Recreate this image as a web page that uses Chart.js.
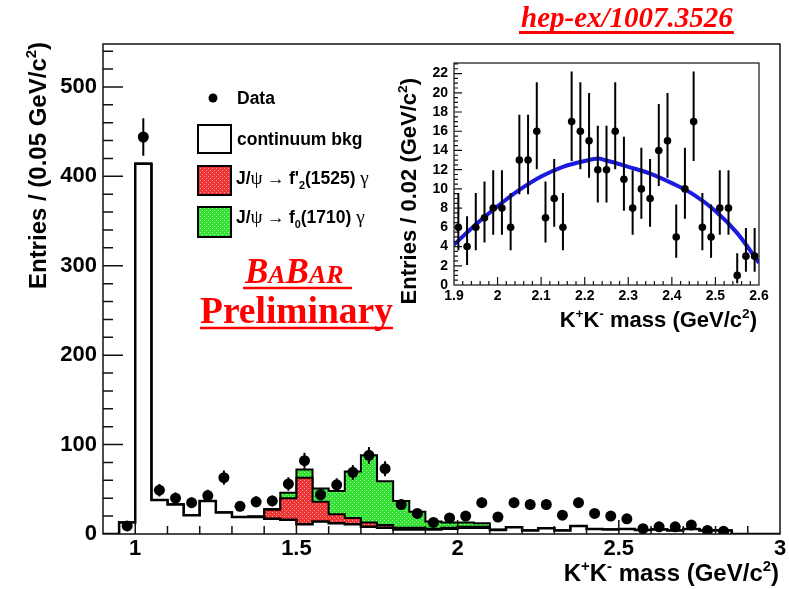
<!DOCTYPE html>
<html><head><meta charset="utf-8">
<script src="https://cdn.jsdelivr.net/npm/chart.js@4.4.0/dist/chart.umd.min.js"></script>
<style>
html,body{margin:0;padding:0;background:#fff;}
#wrap{position:relative;width:789px;height:589px;overflow:hidden;}
#main{position:absolute;left:0;top:0;}
#inset{position:absolute;left:380px;top:40px;}
</style></head><body>
<div id="wrap"><canvas id="main" width="789" height="589"></canvas><canvas id="inset" width="400" height="305"></canvas></div>
<script>
// ---------------- main histogram data (bins of 0.05 GeV/c^2) ----------------
const BIN_WIDTH = 0.05;
const massCenters = [0.925,0.975,1.025,1.075,1.125,1.175,1.225,1.275,1.325,1.375,1.425,1.475,1.525,1.575,1.625,1.675,1.725,1.775,1.825,1.875,1.925,1.975,2.025,2.075,2.125,2.175,2.225,2.275,2.325,2.375,2.425,2.475,2.525,2.575,2.625,2.675,2.725,2.775,2.825,2.875,2.925,2.975];
const dataCounts = [null,9,444,49,40,35,43,63,31,36,37,56,82,44,55,69,88,73,33,23,13,18,20,35,19,35,33,33,21,35,23,20,17,6,8,8,10,4,3,null,null,null];
const dataErrors = [null,3,21,7,6.3,5.9,6.6,7.9,5.6,6,6.1,7.5,9,6.6,7.4,8.3,9.4,8.5,5.7,4.8,3.6,4.2,4.5,5.9,4.4,5.9,5.7,5.7,4.6,5.9,4.8,4.5,4.1,2.4,2.8,2.8,3.2,2,1.7,null,null,null];
const bkgCounts = [0,13,414,38,33,21,37,24,19,19,17,16,11,14,12,11,8,7,5,5,5,6,7,7,4.5,7.5,4,6.5,4,9,5.5,5,5.5,4.5,5,4,5.5,4,4,0,0,0];
const f2Counts  = [0,0,0,0,0,0,0,0,0,0.5,10,24,52,22,10,7,5,3,2,2,1,1,1,1,0,0,0,0,0,0,0,0,0,0,0,0,0,0,0,0,0,0];
const f0Counts  = [0,0,0,0,0,0,0,0,0,0,1,6,9,15,26,52,75,49,30,18,8,6,5,4,0.5,0,0,0,0,0,0,0,0,0,0,0,0,0,0,0,0,0];
const mainXTicks = [1,1.5,2,2.5,3];
const mainYTicks = [0,100,200,300,400,500];

// ---------------- inset data (bins of 0.02 GeV/c^2) ----------------
const insetMass = [1.91,1.93,1.95,1.97,1.99,2.01,2.03,2.05,2.07,2.09,2.11,2.13,2.15,2.17,2.19,2.21,2.23,2.25,2.27,2.29,2.31,2.33,2.35,2.37,2.39,2.41,2.43,2.45,2.47,2.49,2.51,2.53,2.55,2.57,2.59];
const insetCounts = [6,4,6,7,8,8,6,13,13,16,7,9,6,17,16,15,12,12,16,11,8,10,9,14,15,5,10,17,6,5,8,8,1,3,3];
const insetErrLo = [2.38,1.91,2.38,2.58,2.77,2.77,2.38,3.56,3.56,3.96,2.58,2.94,2.38,4.09,3.96,3.83,3.42,3.42,3.96,3.27,2.77,3.11,2.94,3.70,3.83,2.16,3.11,4.09,2.38,2.16,2.77,2.77,0.83,1.63,1.63];
const insetErrHi = [3.58,3.16,3.58,3.77,3.95,3.95,3.58,4.71,4.71,5.10,3.77,4.11,3.58,5.22,5.10,4.97,4.57,4.57,5.10,4.42,3.95,4.27,4.11,4.84,4.97,3.38,4.27,5.22,3.58,3.38,3.95,3.95,2.30,2.92,2.92];
const fitMass   = [1.90,1.95,2.00,2.05,2.10,2.15,2.20,2.23,2.25,2.30,2.35,2.40,2.45,2.50,2.55,2.60];
const fitValues = [4.2,6.3,8.2,9.9,11.3,12.3,12.9,13.15,12.95,12.3,11.6,10.6,9.4,7.7,5.4,2.3];
const insetXTicks = [1.9,2.0,2.1,2.2,2.3,2.4,2.5,2.6];
const insetYTicks = [0,2,4,6,8,10,12,14,16,18,20,22];

const SANS = 'Liberation Sans';
const SERIF = 'Liberation Serif';

// ---------------- helpers ----------------
function histPoints(vals) {
  const pts = [{x: massCenters[0] - BIN_WIDTH/2, y: 0}];
  vals.forEach((v, i) => pts.push({x: massCenters[i] - BIN_WIDTH/2, y: v}));
  const last = massCenters[massCenters.length-1] + BIN_WIDTH/2;
  pts.push({x: last, y: vals[vals.length-1]});
  pts.push({x: last, y: 0});
  return pts;
}
function makePattern(ctx, rgb, dot) {
  const c = document.createElement('canvas'); c.width = 4; c.height = 4;
  const g = c.getContext('2d');
  g.fillStyle = 'rgb(' + rgb.join(',') + ')'; g.fillRect(0,0,4,4);
  g.fillStyle = 'rgb(' + dot.join(',') + ')';
  g.fillRect(0,0,1,1); g.fillRect(2,2,1,1);
  return ctx.createPattern(c, 'repeat');
}
function drawRich(ctx, x, y, parts, opt) {
  const base = opt.size;
  const fontOf = p => {
    let s = p.m ? base*0.62 : base;
    if (p.s) s = base * p.s;
    const fam = p.f || opt.family;
    const w = p.w !== undefined ? p.w : opt.weight;
    return ((p.i || opt.italic) ? 'italic ' : '') + w + ' ' + s + 'px "' + fam + '"';
  };
  let total = 0;
  parts.forEach(p => { ctx.font = fontOf(p); total += ctx.measureText(p.t).width; });
  let cx = opt.align === 'right' ? x - total : (opt.align === 'center' ? x - total/2 : x);
  ctx.textAlign = 'left'; ctx.textBaseline = 'alphabetic'; ctx.fillStyle = opt.color || '#000';
  parts.forEach(p => {
    ctx.font = fontOf(p);
    const dy = p.m === 1 ? -base*0.42 : (p.m === -1 ? base*0.3 : 0);
    ctx.fillText(p.t, cx, y + dy);
    cx += ctx.measureText(p.t).width;
  });
  return total;
}
// frame + inward ticks plugin
const framePlugin = {
  id: 'frame',
  afterDatasetsDraw(chart, args, o) {
    const {ctx, chartArea: a, scales: {x, y}} = chart;
    ctx.save();
    ctx.strokeStyle = '#111'; ctx.lineWidth = o.lw;
    ctx.beginPath();
    const nx = Math.round((x.max - x.min) / o.xMinor);
    for (let i = 0; i <= nx; i++) {
      const v = x.min + i * o.xMinor;
      const isMaj = o.xMajor.some(m => Math.abs(m - v) < 1e-6);
      const px = x.getPixelForValue(v);
      if (px < a.left + 0.5 || px > a.right - 0.5) continue;
      ctx.moveTo(px, a.bottom); ctx.lineTo(px, a.bottom - (isMaj ? o.xMajLen : o.xMinLen));
    }
    const ny = Math.floor((y.max - y.min) / o.yMinor + 1e-6);
    for (let i = 0; i <= ny; i++) {
      const v = y.min + i * o.yMinor;
      const isMaj = o.yMajor.some(m => Math.abs(m - v) < 1e-6);
      const py = y.getPixelForValue(v);
      if (py > a.bottom - 0.5 || py < a.top + 0.5) continue;
      ctx.moveTo(a.left, py); ctx.lineTo(a.left + (isMaj ? o.yMajLen : o.yMinLen), py);
    }
    ctx.stroke();
    ctx.strokeRect(a.left, a.top, a.right - a.left, a.bottom - a.top);
    ctx.restore();
  }
};
// error bars plugin
const errorBarPlugin = {
  id: 'errbars',
  afterDatasetsDraw(chart, args, o) {
    const {ctx, scales: {x, y}} = chart;
    ctx.save(); ctx.strokeStyle = '#000'; ctx.lineWidth = o.lw;
    ctx.beginPath();
    o.xs.forEach((xv, i) => {
      const v = o.vals[i];
      if (v === null || v === undefined) return;
      const px = x.getPixelForValue(xv);
      ctx.moveTo(px, y.getPixelForValue(v - o.lo[i]));
      ctx.lineTo(px, y.getPixelForValue(v + o.hi[i]));
    });
    ctx.stroke(); ctx.restore();
  }
};

// ---------------- main chart ----------------
const mainCanvas = document.getElementById('main');
const mctx = mainCanvas.getContext('2d');
const redPat = makePattern(mctx, [236,52,52], [255,160,160]);
const greenPat = makePattern(mctx, [52,224,52], [160,255,160]);
const redTop = bkgCounts.map((b, i) => b + f2Counts[i]);
const totalTop = redTop.map((r, i) => r + f0Counts[i]);
const dataPts = [];
massCenters.forEach((m, i) => { if (dataCounts[i] !== null) dataPts.push({x: m, y: dataCounts[i]}); });

const annotations = {
  id: 'annot',
  afterDraw(chart) {
    const ctx = chart.ctx;
    ctx.save();
    // axis titles
    drawRich(ctx, 779, 581, [{t:'K'},{t:'+',m:1},{t:'K'},{t:'-',m:1},{t:' mass (GeV/c'},{t:'2',m:1},{t:')'}],
      {size:24, weight:'bold', family:SANS, align:'right'});
    ctx.save(); ctx.translate(46, 42); ctx.rotate(-Math.PI/2);
    drawRich(ctx, 0, 0, [{t:'Entries / (0.05 GeV/c'},{t:'2',m:1},{t:')'}], {size:24, weight:'bold', family:SANS, align:'right'});
    ctx.restore();
    // legend
    ctx.fillStyle = '#000';
    ctx.beginPath(); ctx.arc(213, 98, 4.5, 0, Math.PI*2); ctx.fill();
    drawRich(ctx, 237, 104, [{t:'Data'}], {size:17.5, weight:'bold', family:SANS});
    ctx.lineWidth = 2; ctx.strokeStyle = '#000';
    ctx.fillStyle = '#fff'; ctx.fillRect(198,125,33,28); ctx.strokeRect(198,125,33,28);
    drawRich(ctx, 237, 145, [{t:'continuum bkg'}], {size:17.5, weight:'bold', family:SANS});
    ctx.fillStyle = redPat; ctx.fillRect(198,166,33,29); ctx.strokeRect(198,166,33,29);
    drawRich(ctx, 236, 184, [{t:'J/'},{t:'\u03C8',f:SERIF,w:'normal',s:1.1},{t:' \u2192 ',f:SERIF,w:'normal'},{t:"f'"},{t:'2',m:-1},{t:'(1525) '},{t:'\u03B3',f:SERIF,w:'normal',s:1.1}], {size:17.5, weight:'bold', family:SANS});
    ctx.fillStyle = greenPat; ctx.fillRect(198,207,33,30); ctx.strokeRect(198,207,33,30);
    drawRich(ctx, 236, 223, [{t:'J/'},{t:'\u03C8',f:SERIF,w:'normal',s:1.1},{t:' \u2192 ',f:SERIF,w:'normal'},{t:'f'},{t:'0',m:-1},{t:'(1710) '},{t:'\u03B3',f:SERIF,w:'normal',s:1.1}], {size:17.5, weight:'bold', family:SANS});
    // BABAR Preliminary
    const red = '#ff0000';
    drawRich(ctx, 245, 283, [{t:'B'},{t:'A',s:0.74},{t:'B'},{t:'AR',s:0.74}], {size:35, weight:'bold', family:SERIF, color:red, italic:true});
    ctx.strokeStyle = red; ctx.lineWidth = 2.5;
    ctx.beginPath(); ctx.moveTo(243, 288); ctx.lineTo(352, 288); ctx.stroke();
    const pw = drawRich(ctx, 200, 323, [{t:'Preliminary'}], {size:37.5, weight:'bold', family:SERIF, color:red});
    ctx.beginPath(); ctx.moveTo(200, 328); ctx.lineTo(200 + pw, 328); ctx.stroke();
    // reference tag
    const hw = drawRich(ctx, 521, 27, [{t:'hep-ex/1007.3526'}], {size:29, weight:'bold', family:SERIF, color:red, italic:true});
    ctx.lineWidth = 3;
    ctx.beginPath(); ctx.moveTo(519, 32.5); ctx.lineTo(521 + hw + 1, 32.5); ctx.stroke();
    ctx.restore();
  }
};

new Chart(mctx, {
  type: 'line',
  data: {
    datasets: [
      {label:'Data', data: dataPts, showLine:false, pointRadius:5.5, pointHoverRadius:5.5, pointBackgroundColor:'#000', pointBorderColor:'#000', pointBorderWidth:0, order:0},
      {label:'continuum bkg', data: histPoints(bkgCounts), stepped:true, fill:'origin', backgroundColor:'#ffffff', borderColor:'#000', borderWidth:2.5, pointRadius:0, order:1},
      {label:'f2(1525)', data: histPoints(redTop), stepped:true, fill:'origin', backgroundColor:redPat, borderColor:'#000', borderWidth:2, pointRadius:0, order:2},
      {label:'f0(1710)', data: histPoints(totalTop), stepped:true, fill:'origin', backgroundColor:greenPat, borderColor:'#000', borderWidth:2, pointRadius:0, order:3}
    ]
  },
  options: {
    responsive:false, animation:false, devicePixelRatio:1,
    layout:{padding:{top:44, right:9, left:0, bottom:0}},
    plugins:{
      legend:{display:false}, tooltip:{enabled:false},
      frame:{lw:1.5, xMajor:mainXTicks, xMinor:0.1, xMajLen:14, xMinLen:8, yMajor:mainYTicks, yMinor:20, yMajLen:20, yMinLen:10},
      errbars:{xs:massCenters, vals:dataCounts, lo:dataErrors, hi:dataErrors, lw:2}
    },
    scales:{
      x:{type:'linear', min:0.9, max:3.0,
         grid:{display:false, drawTicks:false}, border:{display:false},
         afterBuildTicks: s => { s.ticks = mainXTicks.map(v => ({value:v})); },
         afterFit: s => { s.height = 55; },
         ticks:{font:{family:SANS, weight:'bold', size:22}, color:'#000', padding:2, maxRotation:0, autoSkip:false, callback: v => String(v)}},
      y:{type:'linear', min:0, max:548,
         grid:{display:false, drawTicks:false}, border:{display:false},
         afterBuildTicks: s => { s.ticks = mainYTicks.map(v => ({value:v})); },
         afterFit: s => { s.width = 103; },
         ticks:{font:{family:SANS, weight:'bold', size:22}, color:'#000', padding:6, autoSkip:false, callback: v => String(v)}}
    }
  },
  plugins:[framePlugin, errorBarPlugin, annotations]
});

// ---------------- inset chart ----------------
const ictx = document.getElementById('inset').getContext('2d');
const insetPts = insetMass.map((m, i) => ({x: m, y: insetCounts[i]}));
const fitPts = fitMass.map((m, i) => ({x: m, y: fitValues[i]}));
const insetTitles = {
  id: 'insetTitles',
  afterDraw(chart) {
    const ctx = chart.ctx;
    ctx.save();
    drawRich(ctx, 377, 287, [{t:'K'},{t:'+',m:1},{t:'K'},{t:'-',m:1},{t:' mass (GeV/c'},{t:'2',m:1},{t:')'}],
      {size:22, weight:'bold', family:SANS, align:'right'});
    ctx.translate(36, 38); ctx.rotate(-Math.PI/2);
    drawRich(ctx, 0, 0, [{t:'Entries / 0.02 (GeV/c'},{t:'2',m:1},{t:')'}], {size:22, weight:'bold', family:SANS, align:'right'});
    ctx.restore();
  }
};
new Chart(ictx, {
  type: 'line',
  data: {
    datasets: [
      {label:'Data', data: insetPts, showLine:false, pointRadius:3.8, pointHoverRadius:3.8, pointBackgroundColor:'#000', pointBorderWidth:0, order:0},
      {label:'Fit', data: fitPts, borderColor:'#1a1ae0', borderWidth:4, pointRadius:0, tension:0.4, cubicInterpolationMode:'monotone', fill:false, order:1}
    ]
  },
  options: {
    responsive:false, animation:false, devicePixelRatio:1,
    layout:{padding:{top:23, right:21, left:0, bottom:0}},
    plugins:{
      legend:{display:false}, tooltip:{enabled:false},
      frame:{lw:1.2, xMajor:insetXTicks, xMinor:0.02, xMajLen:8, xMinLen:4, yMajor:insetYTicks, yMinor:0.5, yMajLen:8, yMinLen:4},
      errbars:{xs:insetMass, vals:insetCounts, lo:insetErrLo, hi:insetErrHi, lw:2}
    },
    scales:{
      x:{type:'linear', min:1.9, max:2.6,
         grid:{display:false, drawTicks:false}, border:{display:false},
         afterBuildTicks: s => { s.ticks = insetXTicks.map(v => ({value:v})); },
         afterFit: s => { s.height = 60; },
         ticks:{font:{family:SANS, weight:'bold', size:14}, color:'#000', padding:3, maxRotation:0, autoSkip:false, callback: v => String(v)}},
      y:{type:'linear', min:0, max:23.1,
         grid:{display:false, drawTicks:false}, border:{display:false},
         afterBuildTicks: s => { s.ticks = insetYTicks.map(v => ({value:v})); },
         afterFit: s => { s.width = 74; },
         ticks:{font:{family:SANS, weight:'bold', size:14}, color:'#000', padding:6, autoSkip:false, callback: v => String(v)}}
    }
  },
  plugins:[framePlugin, errorBarPlugin, insetTitles]
});
</script>
</body></html>
